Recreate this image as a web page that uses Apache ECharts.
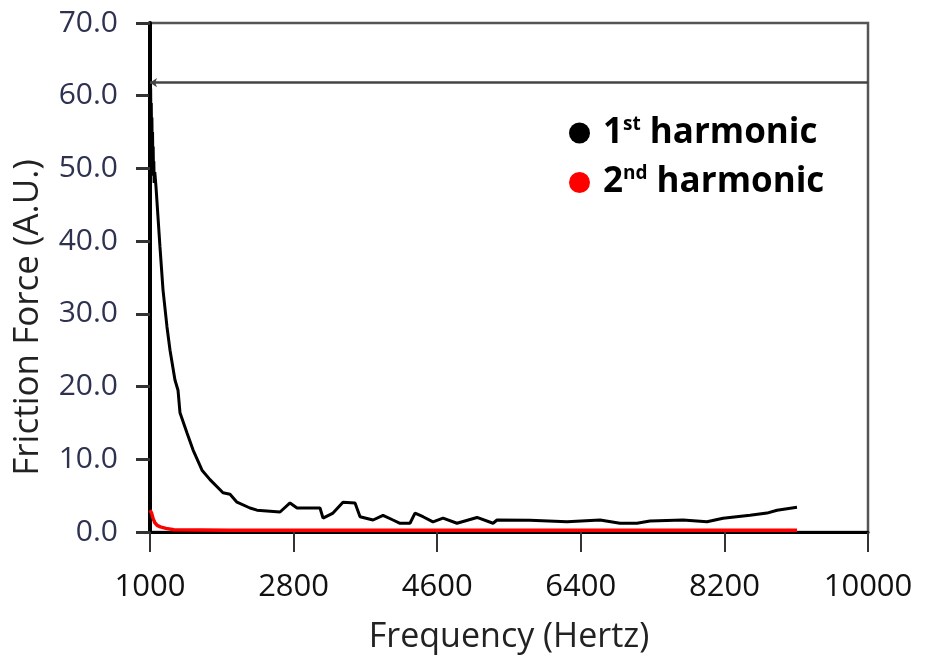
<!DOCTYPE html>
<html>
<head>
<meta charset="utf-8">
<script src="https://cdn.jsdelivr.net/npm/echarts@6/dist/echarts.min.js"></script>
<style>
    html, body { margin: 0; padding: 0; background: #fff; }
</style>
</head>
<body>
<div id="frictionChart" style="width:938px;height:663px;"></div>
<script type="text/javascript">
    // frequency (Hz) / friction force (A.U.)
    var firstHarmonic = [
        [1000, 62], [1004, 58], [1008, 61], [1012, 56], [1016, 59], [1020, 54], [1024, 57],
        [1028, 52], [1032, 55], [1036, 50], [1040, 53], [1044, 49], [1048, 51], [1052, 48],
        [1060, 49.5], [1075, 47.5], [1100, 47.4], [1125, 39.2], [1163, 33.3], [1213, 28.2],
        [1251, 25.0], [1313, 20.9], [1351, 19.5], [1376, 16.4], [1464, 13.6], [1539, 11.3],
        [1652, 8.5], [1752, 7.2], [1915, 5.4], [2003, 5.2], [2090, 4.1], [2253, 3.3],
        [2341, 3.0], [2630, 2.75], [2755, 4.0], [2843, 3.3], [3131, 3.3], [3169, 1.9],
        [3294, 2.6], [3419, 4.1], [3570, 4.0], [3633, 2.1], [3796, 1.65], [3921, 2.3],
        [4046, 1.65], [4134, 1.2], [4259, 1.2], [4322, 2.6], [4422, 2.1], [4547, 1.4],
        [4673, 1.9], [4848, 1.2], [5099, 2.0], [5300, 1.2], [5350, 1.65], [5763, 1.6],
        [6227, 1.4], [6641, 1.65], [6891, 1.2], [7104, 1.2], [7267, 1.5], [7681, 1.65],
        [7982, 1.4], [8183, 1.9], [8521, 2.3], [8734, 2.6], [8860, 3.0], [9110, 3.4]
    ];
    var secondHarmonic = [
        [1000, 3.0], [1020, 2.6], [1040, 1.8], [1060, 1.3], [1090, 0.9], [1130, 0.7],
        [1200, 0.5], [1300, 0.3], [2000, 0.25], [4000, 0.25], [6000, 0.25], [8000, 0.25],
        [9110, 0.25]
    ];
    var referenceLevel = 61.8;
    var seriesNames = ['1st harmonic', '2nd harmonic'];
    var seriesColors = ['#000000', '#ff0000'];

    var fontFamily = '"Open Sans", "DejaVu Sans", sans-serif';

    var myChart = echarts.init(document.getElementById('frictionChart'));
    var option = {
        animation: false,
        grid: {
            left: 150,
            right: 70,
            top: 23,
            bottom: 131,
            show: true,
            borderColor: '#555',
            borderWidth: 2.5
        },
        legend: {
            orient: 'vertical',
            left: 564,
            top: 110,
            icon: 'circle',
            itemWidth: 21,
            itemHeight: 21,
            itemGap: 14,
            data: seriesNames,
            formatter: function (name) {
                return name === seriesNames[0]
                    ? '{g|}{b|1}{s|st}{b| harmonic}'
                    : '{g|}{b|2}{s|nd}{b| harmonic}';
            },
            textStyle: {
                rich: {
                    g: { width: 8 },
                    b: { fontFamily: fontFamily, fontWeight: 'bold', fontSize: 35, color: '#000', lineHeight: 36 },
                    s: { fontFamily: fontFamily, fontWeight: 'bold', fontSize: 19, color: '#000', verticalAlign: 'top', lineHeight: 36, padding: [0, 0, 14, 0] }
                }
            }
        },
        xAxis: {
            type: 'value',
            min: 1000,
            max: 10000,
            interval: 1800,
            name: 'Frequency (Hertz)',
            nameLocation: 'middle',
            nameGap: 88,
            nameTextStyle: { fontFamily: fontFamily, fontSize: 34, color: '#222' },
            axisLine: { show: true, lineStyle: { color: '#000', width: 3 } },
            axisTick: { show: true, length: 20, lineStyle: { color: '#333', width: 2 } },
            axisLabel: {
                fontFamily: fontFamily, fontSize: 31, color: '#111', margin: 40,
                formatter: function (v) { return String(v); }
            },
            splitLine: { show: false }
        },
        yAxis: {
            type: 'value',
            min: 0,
            max: 70,
            interval: 10,
            name: 'Friction Force (A.U.)',
            nameLocation: 'middle',
            nameGap: 104,
            nameTextStyle: { fontFamily: fontFamily, fontSize: 35, color: '#222', padding: [0, 80, 0, 0] },
            axisLine: { show: true, lineStyle: { color: '#000', width: 4 } },
            axisTick: { show: true, length: 14, lineStyle: { color: '#333', width: 3 } },
            axisLabel: {
                fontFamily: fontFamily, fontSize: 30, color: '#2e3150', margin: 32,
                formatter: function (v) { return v.toFixed(1); }
            },
            splitLine: { show: false }
        },
        series: [
            {
                name: seriesNames[0],
                type: 'line',
                data: firstHarmonic,
                color: seriesColors[0],
                showSymbol: false,
                lineStyle: { color: seriesColors[0], width: 3 },
                z: 3,
                markLine: {
                    silent: true,
                    symbol: ['arrow', 'none'],
                    symbolSize: 7,
                    label: { show: false },
                    lineStyle: { color: '#444', width: 2.5, type: 'solid' },
                    data: [{ yAxis: referenceLevel }]
                }
            },
            {
                name: seriesNames[1],
                type: 'line',
                data: secondHarmonic,
                color: seriesColors[1],
                showSymbol: false,
                lineStyle: { color: seriesColors[1], width: 3.5 },
                z: 4
            }
        ]
    };
    myChart.setOption(option);
</script>
</body>
</html>
